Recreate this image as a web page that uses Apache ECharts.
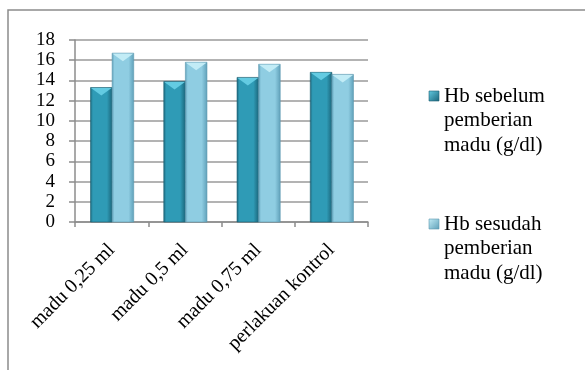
<!DOCTYPE html>
<html>
<head>
<meta charset="utf-8">
<script src="https://cdn.jsdelivr.net/npm/echarts@6/dist/echarts.min.js"></script>
<style>
  html, body { margin: 0; padding: 0; background: #fff; }
  #chart { width: 585px; height: 370px; }
</style>
</head>
<body>
<div id="chart"></div>
<script>
// Haemoglobin before / after honey, per treatment group
const categories = ['madu 0,25 ml', 'madu 0,5 ml', 'madu 0,75 ml', 'perlakuan kontrol'];
const seriesNames = ['Hb sebelum pemberian madu (g/dl)', 'Hb sesudah pemberian madu (g/dl)'];
const legendLines = [
  ['Hb sebelum', 'pemberian', 'madu (g/dl)'],
  ['Hb sesudah', 'pemberian', 'madu (g/dl)']
];
const hbBefore = [13.3, 13.9, 14.3, 14.8];
const hbAfter = [16.7, 15.8, 15.6, 14.6];
const yTicks = { min: 0, max: 18, interval: 2 };

const FONT = '"Liberation Serif", "Times New Roman", serif';

// body gradient, edge colour and cap colour for each series
const palettes = [
  { edge: '#1b6479', mid: '#2f9bb6', cap: '#63cbe2', stroke: '#1d5f72' },
  { edge: '#5e9fb8', mid: '#8fcde2', cap: '#c2ecf6', stroke: '#5c98ae' }
];

function bevelBar(seriesIndex) {
  const pal = palettes[seriesIndex];
  return function (params, api) {
    const catIdx = api.value(0);
    const val = api.value(1);
    const top = api.coord([catIdx, val]);
    const base = api.coord([catIdx, 0]);
    const band = api.size([1, 0])[0];
    const w = band * 0.295;
    const x = seriesIndex === 0 ? top[0] - w + 0.5 : top[0] + 0.5;
    const y = top[1];
    const h = base[1] - top[1];
    const capDepth = Math.min(8, h);
    return {
      type: 'group',
      children: [
        {
          type: 'rect',
          shape: { x: x, y: y, width: w, height: h },
          style: {
            fill: new echarts.graphic.LinearGradient(0, 0, 1, 0, [
              { offset: 0, color: pal.edge },
              { offset: 0.12, color: pal.mid },
              { offset: 0.75, color: pal.mid },
              { offset: 1, color: pal.edge }
            ]),
            stroke: pal.stroke,
            lineWidth: 0.6
          }
        },
        {
          type: 'polygon',
          shape: { points: [[x + 0.5, y + 0.5], [x + w - 0.5, y + 0.5], [x + w / 2, y + capDepth]] },
          style: { fill: pal.cap }
        }
      ]
    };
  };
}

const chart = echarts.init(document.getElementById('chart'), null, { renderer: 'canvas' });

const legendGraphics = [];
[85, 213].forEach(function (topY, i) {
  legendGraphics.push({
    type: 'rect',
    shape: { x: 429, y: topY + 6, width: 10, height: 10 },
    style: {
      fill: new echarts.graphic.LinearGradient(0, 0, 1, 1, [
        { offset: 0, color: palettes[i].cap },
        { offset: 1, color: palettes[i].edge }
      ]),
      stroke: palettes[i].stroke,
      lineWidth: 0.6
    }
  });
  legendGraphics.push({
    type: 'text',
    x: 444,
    y: topY - 1,
    style: {
      text: legendLines[i].join('\n'),
      font: '21px ' + FONT,
      lineHeight: 24.5,
      fill: '#000'
    }
  });
});

chart.setOption({
  animation: false,
  backgroundColor: '#fff',
  textStyle: { fontFamily: FONT },
  grid: { left: 75, top: 40, right: 217, bottom: 148, containLabel: false },
  xAxis: {
    type: 'category',
    data: categories,
    axisLine: { lineStyle: { color: '#8c8c8c', width: 1.5 } },
    axisTick: { show: true, length: 5, lineStyle: { color: '#8c8c8c', width: 1.5 } },
    axisLabel: { rotate: 45, margin: 25, color: '#000', fontSize: 20, fontFamily: FONT }
  },
  yAxis: {
    type: 'value',
    min: yTicks.min,
    max: yTicks.max,
    interval: yTicks.interval,
    axisLine: { show: true, lineStyle: { color: '#8c8c8c', width: 1.5 } },
    axisTick: { show: true, length: 6, lineStyle: { color: '#8c8c8c', width: 1.5 } },
    axisLabel: { margin: 20, color: '#000', fontSize: 19, fontFamily: FONT },
    splitLine: { lineStyle: { color: '#9a9a9a', width: 1.5 } }
  },
  series: [
    {
      name: seriesNames[0],
      type: 'custom',
      renderItem: bevelBar(0),
      encode: { x: 0, y: 1 },
      data: hbBefore.map(function (v, i) { return [i, v]; })
    },
    {
      name: seriesNames[1],
      type: 'custom',
      renderItem: bevelBar(1),
      encode: { x: 0, y: 1 },
      data: hbAfter.map(function (v, i) { return [i, v]; })
    }
  ],
  graphic: [
    {
      type: 'rect',
      silent: true,
      shape: { x: 8, y: 10, width: 600, height: 400 },
      style: { fill: 'none', stroke: '#8c8c8c', lineWidth: 1.5 }
    }
  ].concat(legendGraphics)
});
</script>
</body>
</html>
